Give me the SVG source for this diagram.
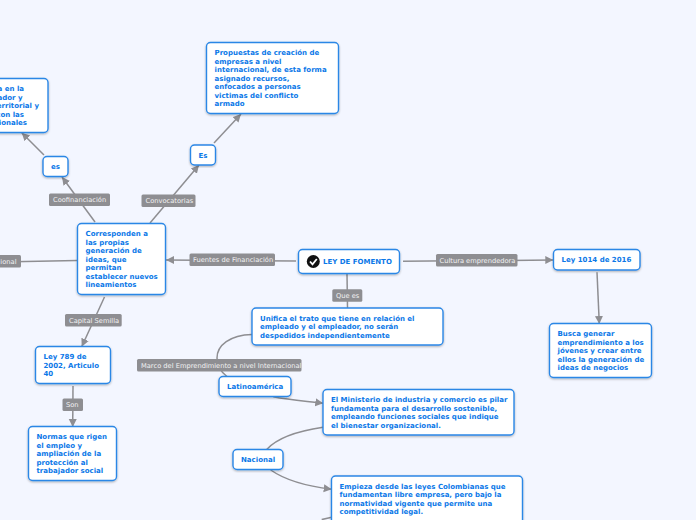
<svg xmlns="http://www.w3.org/2000/svg" width="696" height="520" viewBox="0 0 696 520">
<style>
.n{fill:#fff;stroke:#2b87e6;stroke-width:1.4;filter:url(#s)}
.t{font:bold 7px "DejaVu Sans",sans-serif;fill:#0b78e8}
.c{fill:none;stroke:#8e8e92;stroke-width:1.5}
.a{marker-end:url(#m)}
.lb{fill:#8e8e92}
.l{font:6.7px "DejaVu Sans",sans-serif;fill:#f2f2f2}
</style>
<defs>
<filter id="s" x="-10%" y="-10%" width="120%" height="125%"><feDropShadow dx="0" dy="1" stdDeviation="0.8" flood-color="#000" flood-opacity="0.3"/></filter>
<marker id="m" markerUnits="userSpaceOnUse" markerWidth="10" markerHeight="10" refX="8" refY="4.500" orient="auto"><path d="M0 0.500L8 4.500L0 8.500z" fill="#8e8e92"/></marker>
</defs>
<rect width="696" height="520" fill="#f3f6ff"/>
<g id="connectors">
<path class="c a" d="M296 261L166 260"/>
<path class="c" d="M77 260.500L0 262"/>
<path class="c a" d="M95 222L62 177"/>
<path class="c a" d="M150 223L199 165"/>
<path class="c a" d="M214 143L241 114"/>
<path class="c a" d="M44 155L21.700 132.700"/>
<path class="c a" d="M104.500 297L81.700 346.700"/>
<path class="c a" d="M73 386L72.700 427"/>
<path class="c" d="M347 274L347.500 308"/>
<path class="c a" d="M403 261.300L553.300 260"/>
<path class="c a" d="M597 272.300L599.300 324"/>
<path class="c" d="M252 334.400C230 335 217 345 217 358C217 366 221 372 227 376.500"/>
<path class="c a" d="M273.300 396.700C290 400 305 401 323.300 403.300"/>
<path class="c" d="M323 427.300C298 431 278 437 266.700 449.500"/>
<path class="c a" d="M270.700 470C285 480 305 486 331.700 489.300"/>
<path class="c" d="M331.700 517.300L321.700 519.600"/>
</g>
<g id="labels">
<g><rect class="lb" x="189.500" y="253.500" width="85.500" height="12.500" rx="1.500"/><text class="l" x="193" y="262">Fuentes de Financiación</text></g>
<g><rect class="lb" x="49" y="193.500" width="61" height="12.500" rx="1.500"/><text class="l" x="53" y="202">Coofinanciación</text></g>
<g><rect class="lb" x="141.500" y="194.500" width="54" height="12.500" rx="1.500"/><text class="l" x="145.500" y="203">Convocatorias</text></g>
<g><rect class="lb" x="65" y="314" width="56.700" height="12.500" rx="1.500"/><text class="l" x="69" y="323">Capital Semilla</text></g>
<g><rect class="lb" x="62.500" y="398.500" width="20.500" height="12.500" rx="1.500"/><text class="l" x="66" y="407">Son</text></g>
<g><rect class="lb" x="137" y="359" width="164.500" height="12.500" rx="1.500"/><text class="l" x="141" y="368">Marco del Emprendimiento a nivel Internacional</text></g>
<g><rect class="lb" x="332.300" y="289.300" width="30" height="12.500" rx="1.500"/><text class="l" x="336" y="298">Que es</text></g>
<g><rect class="lb" x="436" y="254" width="81.500" height="12.500" rx="1.500"/><text class="l" x="439.500" y="263">Cultura emprendedora</text></g>
<g><rect class="lb" x="-5" y="255" width="26" height="12.500" rx="1.500"/><text class="l" x="16.500" y="264" text-anchor="end">ional</text></g>
</g>
<g id="root"><rect class="n" x="298.500" y="249.500" width="101" height="24" rx="4"/><circle cx="313.300" cy="261.500" r="6.500" fill="#111"/><path d="M310 261.500L312.500 264.300L316.800 259" fill="none" stroke="#fff" stroke-width="1.800"/><text class="t" x="323" y="264">LEY DE FOMENTO</text></g>
<g id="n1014"><rect class="n" x="553.500" y="249.500" width="86.500" height="20.500" rx="4"/><text class="t" x="561.500" y="262">Ley 1014 de 2016</text></g>
<g id="nBusca"><rect class="n" x="549.500" y="323.500" width="102" height="54" rx="4"/><text class="t"><tspan x="557.500" y="336">Busca generar</tspan><tspan x="557.500" y="345">emprendimiento a los</tspan><tspan x="557.500" y="353">jóvenes y crear entre</tspan><tspan x="557.500" y="362">ellos la generación de</tspan><tspan x="557.500" y="370">ideas de negocios</tspan></text></g>
<g id="nUnifica"><rect class="n" x="252" y="308" width="191" height="37" rx="4"/><text class="t"><tspan x="260" y="321">Unifica el trato que tiene en relación el</tspan><tspan x="260" y="329">empleado y el empleador, no serán</tspan><tspan x="260" y="338">despedidos independientemente</tspan></text></g>
<g id="nMinisterio"><rect class="n" x="323" y="389.500" width="191" height="45.500" rx="4"/><text class="t"><tspan x="331" y="402">El Ministerio de industria y comercio es pilar</tspan><tspan x="331" y="411">fundamenta para el desarrollo sostenible,</tspan><tspan x="331" y="419">empleando funciones sociales que indique</tspan><tspan x="331" y="428">el bienestar organizacional.</tspan></text></g>
<g id="nEmpieza"><rect class="n" x="331.500" y="476" width="191" height="54" rx="4"/><text class="t"><tspan x="339.500" y="489">Empieza desde las leyes Colombianas que</tspan><tspan x="339.500" y="497">fundamentan libre empresa, pero bajo la</tspan><tspan x="339.500" y="506">normatividad vigente que permite una</tspan><tspan x="339.500" y="514">competitividad legal.</tspan></text></g>
<g id="nLatino"><rect class="n" x="219" y="376.500" width="72" height="20" rx="4"/><text class="t" x="227" y="389">Latinoamérica</text></g>
<g id="nNacional"><rect class="n" x="233" y="449.500" width="50" height="20" rx="4"/><text class="t" x="241" y="462">Nacional</text></g>
<g id="nCorresponden"><rect class="n" x="77.500" y="223.500" width="88" height="71" rx="4"/><text class="t"><tspan x="85.500" y="236">Corresponden a</tspan><tspan x="85.500" y="245">las propias</tspan><tspan x="85.500" y="253">generación de</tspan><tspan x="85.500" y="262">ideas, que</tspan><tspan x="85.500" y="270">permitan</tspan><tspan x="85.500" y="279">establecer nuevos</tspan><tspan x="85.500" y="287">lineamientos</tspan></text></g>
<g id="nLey789"><rect class="n" x="35.500" y="346.500" width="75" height="37" rx="4"/><text class="t"><tspan x="43.500" y="359">Ley 789 de</tspan><tspan x="43.500" y="368">2002, Articulo</tspan><tspan x="43.500" y="376">40</tspan></text></g>
<g id="nNormas"><rect class="n" x="28.500" y="426.500" width="88" height="54" rx="4"/><text class="t"><tspan x="36.500" y="439">Normas que rigen</tspan><tspan x="36.500" y="448">el empleo y</tspan><tspan x="36.500" y="456">ampliación de la</tspan><tspan x="36.500" y="465">protección al</tspan><tspan x="36.500" y="473">trabajador social</tspan></text></g>
<g id="nEs"><rect class="n" x="190.500" y="145" width="25" height="20" rx="4"/><text class="t" x="198.500" y="158">Es</text></g>
<g id="nPropuestas"><rect class="n" x="206.500" y="42.500" width="132" height="71" rx="4"/><text class="t"><tspan x="214.500" y="55">Propuestas de creación de</tspan><tspan x="214.500" y="64">empresas a nivel</tspan><tspan x="214.500" y="72">internacional, de esta forma</tspan><tspan x="214.500" y="81">asignado recursos,</tspan><tspan x="214.500" y="89">enfocados a personas</tspan><tspan x="214.500" y="98">victimas del conflicto</tspan><tspan x="214.500" y="106">armado</tspan></text></g>
<g id="nes2"><rect class="n" x="43" y="156.500" width="25" height="20" rx="4"/><text class="t" x="51" y="169">es</text></g>
<g id="nLeft"><rect class="n" x="-60" y="78.500" width="108" height="54" rx="4"/><text class="t" text-anchor="end"><tspan x="24" y="91">a en la</tspan><tspan x="22.500" y="100">ador y</tspan><tspan x="39" y="108">erritorial y</tspan><tspan x="24" y="117">con las</tspan><tspan x="27" y="125">ionales</tspan></text></g>
</svg>
